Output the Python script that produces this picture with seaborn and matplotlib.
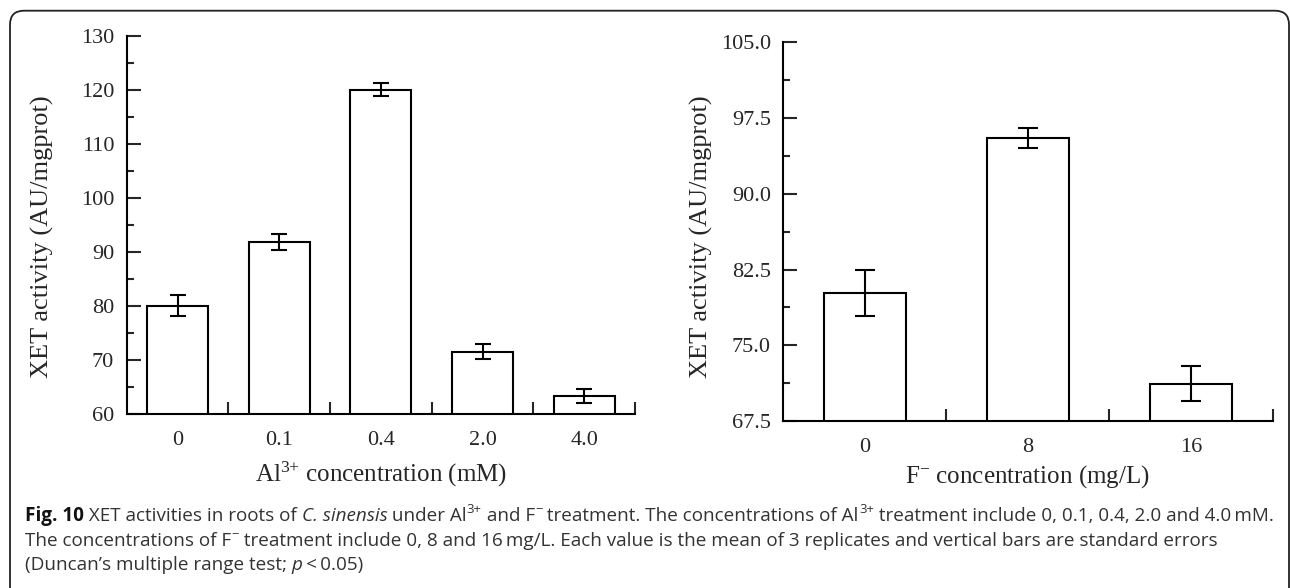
import matplotlib
matplotlib.use("Agg")
import matplotlib.pyplot as plt
import seaborn as sns
import pandas as pd
from matplotlib.patches import FancyBboxPatch
from matplotlib.ticker import FixedLocator, FixedFormatter

# ---------------- data ----------------
al_conc = ["0", "0.1", "0.4", "2.0", "4.0"]
al_xet = [80.1, 91.8, 120.0, 71.6, 63.4]
al_se = [2.0, 1.45, 1.2, 1.4, 1.25]

f_conc = ["0", "8", "16"]
f_xet = [80.2, 95.5, 71.2]
f_se = [2.3, 1.0, 1.7]

al_yticks = [60, 70, 80, 90, 100, 110, 120, 130]
al_ytick_labels = ["60", "70", "80", "90", "100", "110", "120", "130"]
f_yticks = [67.5, 75.0, 82.5, 90.0, 97.5, 105.0]
f_ytick_labels = ["67.5", "75.0", "82.5", "90.0", "97.5", "105.0"]

ylabel = "XET activity (AU/mgprot)"
al_xlabel = r"Al$^{3{+}}$ concentration (mM)"
f_xlabel = r"F$^{{-}}$ concentration (mg/L)"

caption_lines = [
    [("Fig. 10", "b"), (" XET activities in roots of ", "n"), ("C. sinensis", "i"),
     (" under Al", "n"), ("3+", "s"), (" and F", "n"), ("\u2212", "s"),
     (" treatment. The concentrations of Al", "n"), ("3+", "s"),
     (" treatment include 0, 0.1, 0.4, 2.0 and 4.0\u2009mM.", "n")],
    [("The concentrations of F", "n"), ("\u2212", "s"),
     (" treatment include 0, 8 and 16\u2009mg/L. Each value is the mean of 3 replicates "
      "and vertical bars are standard errors", "n")],
    [("(Duncan\u2019s multiple range test; ", "n"), ("p", "i"), ("\u2009<\u20090.05)", "n")],
]

# ---------------- style ----------------
sns.set_style("white")
plt.rcParams["font.family"] = ["Liberation Serif", "DejaVu Serif"]
plt.rcParams["mathtext.fontset"] = "custom"
plt.rcParams["mathtext.rm"] = "Liberation Serif"
plt.rcParams["mathtext.it"] = "Liberation Serif:italic"
plt.rcParams["mathtext.bf"] = "Liberation Serif:bold"

W, H = 1290, 588
fig = plt.figure(figsize=(W / 100, H / 100), dpi=100)


def px_axes(x0, y0, x1, y1):
    return fig.add_axes([x0 / W, (H - y1) / H, (x1 - x0) / W, (y1 - y0) / H])


ax1 = px_axes(126.7, 35.7, 635.0, 414.3)
ax2 = px_axes(783.3, 42.3, 1272.5, 421.0)

lw = 1.5
panels = [
    (ax1, al_conc, al_xet, al_se, al_yticks, al_ytick_labels, al_xlabel, 0.6, 5.5, 0.469, 7),
    (ax2, f_conc, f_xet, f_se, f_yticks, f_ytick_labels, f_xlabel, 0.5, 7.5, 0.486, 5),
]

for ax, cats, vals, se, yt, ytl, xl, bw, cap, ylab_y, xlp in panels:
    df = pd.DataFrame({"conc": cats, "xet": vals})
    sns.barplot(data=df, x="conc", y="xet", ax=ax, color="white", edgecolor="black",
                linewidth=lw, width=bw, errorbar=None, saturation=1)
    ax.errorbar(range(len(cats)), vals, yerr=se, fmt="none", ecolor="black",
                elinewidth=lw, capsize=cap, capthick=lw, zorder=5)
    n = len(cats)
    ax.set_xlim(-0.5, n - 0.5)
    ax.set_ylim(yt[0], yt[-1])
    ax.yaxis.set_major_locator(FixedLocator(yt))
    ax.yaxis.set_major_formatter(FixedFormatter(ytl))
    step = yt[1] - yt[0]
    ax.yaxis.set_minor_locator(FixedLocator([v + step / 2 for v in yt[:-1]]))
    ax.xaxis.set_minor_locator(FixedLocator([i + 0.5 for i in range(n)]))
    ax.tick_params(axis="y", which="major", direction="in", length=10, width=lw,
                   labelsize=16, pad=9, left=True)
    ax.tick_params(axis="y", which="minor", direction="in", length=5, width=lw, left=True)
    ax.tick_params(axis="x", which="major", length=0, labelsize=16, pad=12)
    ax.tick_params(axis="x", which="minor", direction="in", length=8.5, width=lw, bottom=True)
    for s in ["top", "right"]:
        ax.spines[s].set_visible(False)
    for s in ["left", "bottom"]:
        ax.spines[s].set_linewidth(lw)
        ax.spines[s].set_color("black")
    ax.set_ylabel(ylabel, fontsize=19)
    ax.yaxis.set_label_coords(-0.143, ylab_y)
    ax.set_xlabel(xl, fontsize=18, labelpad=xlp)

# ---------------- border ----------------
border = FancyBboxPatch((10, -30), 1279, H - 10.7 + 30,
                        boxstyle="round,pad=0,rounding_size=14",
                        transform=None, facecolor="none", edgecolor="#222222",
                        linewidth=1.3)
fig.add_artist(border)

# ---------------- caption ----------------
renderer = fig.canvas.get_renderer()
cap_color = "#333333"
fam = ["Open Sans", "DejaVu Sans"]


def measure(s, size, kind):
    kw = dict(fontsize=size, fontweight="bold" if kind == "b" else "normal",
              fontstyle="italic" if kind == "i" else "normal", family=fam)
    p1 = fig.text(0, 0, "x" + s + "x", **kw)
    p2 = fig.text(0, 0, "xx", **kw)
    w = p1.get_window_extent(renderer).width - p2.get_window_extent(renderer).width
    p1.remove()
    p2.remove()
    return w


def run_size(base, kind):
    return base * (0.7 if kind == "s" else 1.0)


# fit first caption line to the width seen in the reference (25 px -> 1273 px)
ref_size = 10.0
w_ref = sum(measure(s, run_size(ref_size, k), k) for s, k in caption_lines[0])
cap_size = ref_size * (1273 - 25) / w_ref


def run_text(x, y, s, kind):
    size = run_size(cap_size, kind)
    dy = cap_size * 0.45 if kind == "s" else 0
    fig.text(x / W, (H - y + dy * 100 / 72) / H, s, fontsize=size,
             fontweight="bold" if kind == "b" else "normal",
             fontstyle="italic" if kind == "i" else "normal",
             color="#111111" if kind == "b" else cap_color,
             family=fam, va="baseline", ha="left")
    return x + measure(s, size, kind)


baselines = [521.0, 545.5, 570.0]
for line, yb in zip(caption_lines, baselines):
    x = 25
    for s, kind in line:
        x = run_text(x, yb, s, kind)

fig.savefig("out.png", dpi=100)
